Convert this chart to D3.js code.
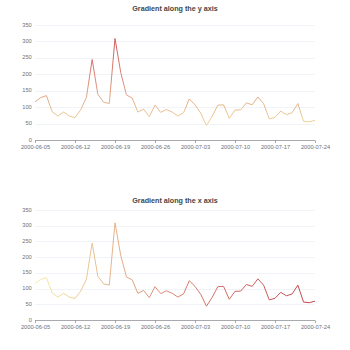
<!DOCTYPE html>
<html>
<head>
<meta charset="utf-8">
<script src="https://cdn.jsdelivr.net/npm/d3@7/dist/d3.min.js"></script>
<style>
html,body{margin:0;padding:0;background:#fff;}
svg{display:block;font-family:"Liberation Sans",Arial,sans-serif;}
</style>
</head>
<body>
<svg id="chart" width="350" height="350"></svg>
<script>
const dates = ["2000-06-05","2000-06-06","2000-06-07","2000-06-08","2000-06-09","2000-06-10","2000-06-11","2000-06-12","2000-06-13","2000-06-14","2000-06-15","2000-06-16","2000-06-17","2000-06-18","2000-06-19","2000-06-20","2000-06-21","2000-06-22","2000-06-23","2000-06-24","2000-06-25","2000-06-26","2000-06-27","2000-06-28","2000-06-29","2000-06-30","2000-07-01","2000-07-02","2000-07-03","2000-07-04","2000-07-05","2000-07-06","2000-07-07","2000-07-08","2000-07-09","2000-07-10","2000-07-11","2000-07-12","2000-07-13","2000-07-14","2000-07-15","2000-07-16","2000-07-17","2000-07-18","2000-07-19","2000-07-20","2000-07-21","2000-07-22","2000-07-23","2000-07-24"];
const values = [116,129,135,86,73,85,73,68,92,130,245,139,115,111,309,206,137,128,85,94,71,106,84,93,85,73,83,125,107,82,44,72,106,107,66,91,92,113,107,131,111,64,69,88,77,83,111,57,55,60];
const yTicks = [0,50,100,150,200,250,300,350];
const xLabelDates = ["2000-06-05","2000-06-12","2000-06-19","2000-06-26","2000-07-03","2000-07-10","2000-07-17","2000-07-24"];
const titles = ["Gradient along the y axis","Gradient along the x axis"];
const gradientColors = ["#f6efa6","#d88273","#bf444c"];
const yColorRange = [0, 400];

const svg = d3.select("#chart");
const W = 350;
const panels = [
  {title: titles[0], titleY: 9, top: 25, bottom: 140, mode: "y"},
  {title: titles[1], titleY: 201, top: 210, bottom: 320, mode: "x"}
];
const left = 35, right = 315;

const defs = svg.append("defs");

panels.forEach((p, pi) => {
  const g = svg.append("g");
  const x = d3.scalePoint().domain(dates).range([left, right]);
  const y = d3.scaleLinear().domain([0, 350]).range([p.bottom, p.top]);

  g.append("text").attr("x", W/2).attr("y", p.titleY)
    .attr("text-anchor","middle").attr("dominant-baseline","middle")
    .attr("font-size","7.2px").attr("font-weight","bold").attr("fill","#464646")
    .text(p.title);

  // split lines
  g.append("g").selectAll("line").data(yTicks.filter(t=>t>0)).join("line")
    .attr("x1", left).attr("x2", right)
    .attr("y1", d=>Math.round(y(d))+0.5).attr("y2", d=>Math.round(y(d))+0.5)
    .attr("stroke","#E0E6F1").attr("stroke-width",0.5);

  // y labels
  g.append("g").selectAll("text").data(yTicks).join("text")
    .attr("x", left-3.2).attr("y", d=>y(d))
    .attr("text-anchor","end").attr("dominant-baseline","middle")
    .attr("font-size","5.7px").attr("fill","#6E7079").text(d=>d);

  // x axis
  const xAxis = d3.axisBottom(x).tickValues(xLabelDates).tickSize(2.5).tickPadding(2.4);
  const ax = g.append("g").attr("transform",`translate(0,${Math.round(p.bottom)+0.5})`).call(xAxis);
  ax.select(".domain").attr("stroke","#6E7079").attr("stroke-width",0.6).attr("d",`M${left},0H${right}`);
  ax.selectAll(".tick line").attr("stroke","#6E7079").attr("stroke-width",0.6);
  ax.selectAll(".tick text").attr("fill","#6E7079").attr("font-size","5.7px")
    .attr("font-family","Liberation Sans, Arial, sans-serif");

  // gradient
  const gid = "grad"+pi;
  const grad = defs.append("linearGradient").attr("id",gid).attr("gradientUnits","userSpaceOnUse");
  if (p.mode === "y") {
    grad.attr("x1",0).attr("x2",0).attr("y1",y(yColorRange[0])).attr("y2",y(yColorRange[1]));
  } else {
    grad.attr("y1",0).attr("y2",0).attr("x1",x(dates[0])).attr("x2",x(dates[dates.length-1]));
  }
  gradientColors.forEach((c,i)=>{
    grad.append("stop").attr("offset", i/(gradientColors.length-1)).attr("stop-color", c);
  });

  const line = d3.line().x((d,i)=>x(dates[i])).y(d=>y(d));
  g.append("path").datum(values).attr("d", line)
    .attr("fill","none").attr("stroke",`url(#${gid})`).attr("stroke-width",1)
    .attr("stroke-linejoin","bevel");
});
</script>
</body>
</html>
